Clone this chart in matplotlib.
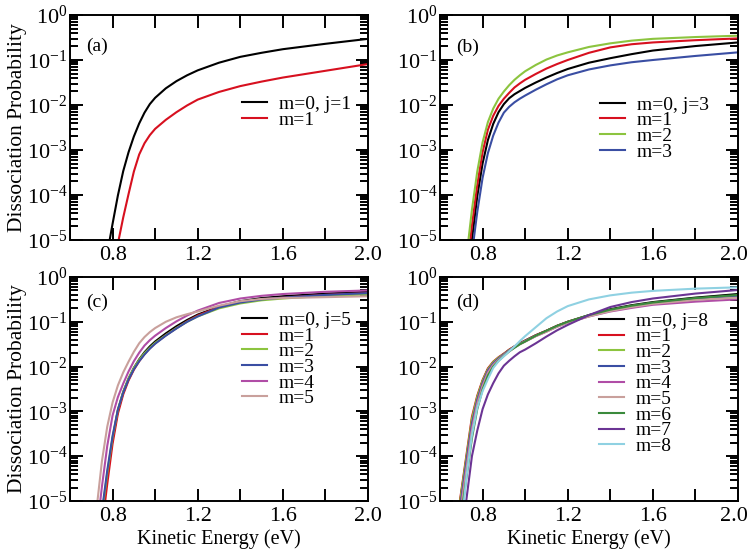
import numpy as np
import matplotlib
matplotlib.use('Agg')
import matplotlib.pyplot as plt
import matplotlib.transforms as mtransforms
from matplotlib.ticker import LogLocator, FuncFormatter, NullFormatter, FixedLocator

plt.rcParams['font.family'] = ['Liberation Serif', 'DejaVu Serif']
plt.rcParams['mathtext.fontset'] = 'custom'
plt.rcParams['mathtext.rm'] = 'Liberation Serif'
plt.rcParams['mathtext.it'] = 'Liberation Serif:italic'
plt.rcParams['font.size'] = 14

# ---------------- data (log10 of dissociation probability) ----------------
E_a = [0.75, 0.775, 0.80, 0.825, 0.85, 0.875, 0.90, 0.925, 0.95, 0.975, 1.00,
       1.05, 1.10, 1.15, 1.20, 1.30, 1.40, 1.50, 1.60, 1.80, 2.00]
a_m0 = [-6.2, -5.3, -4.64, -4.01, -3.47, -3.05, -2.70, -2.41, -2.17, -1.98, -1.84,
        -1.63, -1.47, -1.34, -1.23, -1.06, -0.93, -0.84, -0.76, -0.64, -0.53]
a_m1 = [-7.5, -6.6, -5.70, -5.08, -4.50, -3.98, -3.48, -3.10, -2.85, -2.67, -2.53,
        -2.33, -2.16, -2.01, -1.88, -1.71, -1.58, -1.48, -1.39, -1.24, -1.09]

E_b = [0.70, 0.725, 0.75, 0.775, 0.80, 0.825, 0.85, 0.875, 0.90, 0.925, 0.95, 0.975, 1.00,
       1.05, 1.10, 1.15, 1.20, 1.30, 1.40, 1.50, 1.60, 1.80, 2.00]
b_m0 = [-7.3, -6.1, -5.0, -4.03, -3.30, -2.78, -2.42, -2.16, -1.98, -1.85, -1.76, -1.69, -1.62,
        -1.50, -1.39, -1.29, -1.20, -1.06, -0.96, -0.87, -0.79, -0.69, -0.61]
b_m1 = [-7.0, -5.75, -4.68, -3.78, -3.05, -2.55, -2.24, -2.02, -1.86, -1.73, -1.61, -1.52, -1.44,
        -1.31, -1.19, -1.09, -1.00, -0.84, -0.72, -0.65, -0.61, -0.56, -0.52]
b_m2 = [-6.6, -5.35, -4.33, -3.48, -2.83, -2.38, -2.08, -1.86, -1.70, -1.56, -1.44, -1.34, -1.25,
        -1.11, -0.99, -0.90, -0.83, -0.71, -0.63, -0.57, -0.53, -0.49, -0.46]
b_m3 = [-7.5, -6.4, -5.3, -4.38, -3.62, -3.07, -2.68, -2.39, -2.17, -2.04, -1.94, -1.86, -1.79,
        -1.66, -1.54, -1.43, -1.34, -1.21, -1.12, -1.05, -1.00, -0.91, -0.83]

E_c = E_b
c_m0 = [-7.4, -6.4, -5.4, -4.45, -3.62, -2.98, -2.57, -2.27, -2.03, -1.84, -1.68, -1.55, -1.44,
        -1.26, -1.10, -0.96, -0.84, -0.66, -0.54, -0.47, -0.43, -0.37, -0.33]
c_m1 = [-7.6, -6.6, -5.6, -4.62, -3.72, -3.05, -2.62, -2.31, -2.07, -1.88, -1.72, -1.59, -1.48,
        -1.30, -1.14, -0.99, -0.86, -0.67, -0.56, -0.50, -0.46, -0.40, -0.36]
c_m2 = [-7.3, -6.3, -5.3, -4.38, -3.58, -2.96, -2.56, -2.26, -2.03, -1.85, -1.70, -1.58, -1.47,
        -1.30, -1.14, -1.00, -0.88, -0.70, -0.59, -0.52, -0.48, -0.42, -0.39]
c_m3 = [-7.2, -6.2, -5.22, -4.32, -3.55, -2.96, -2.58, -2.29, -2.06, -1.88, -1.73, -1.60, -1.49,
        -1.31, -1.15, -1.00, -0.88, -0.68, -0.57, -0.50, -0.46, -0.40, -0.36]
c_m4 = [-6.9, -5.7, -4.68, -3.77, -3.09, -2.68, -2.38, -2.11, -1.88, -1.69, -1.53, -1.41, -1.31,
        -1.14, -0.99, -0.86, -0.75, -0.58, -0.48, -0.42, -0.38, -0.33, -0.30]
c_m5 = [-6.4, -5.17, -4.11, -3.34, -2.80, -2.42, -2.13, -1.89, -1.67, -1.48, -1.34, -1.23, -1.14,
        -1.00, -0.90, -0.83, -0.77, -0.64, -0.54, -0.49, -0.47, -0.45, -0.43]

E_d = [0.65, 0.675, 0.70, 0.725, 0.75, 0.775, 0.80, 0.825, 0.85, 0.875, 0.90, 0.925, 0.95, 0.975,
       1.00, 1.05, 1.10, 1.15, 1.20, 1.30, 1.40, 1.50, 1.60, 1.80, 2.00]
d_m0 = [-6.5, -5.70, -4.85, -4.03, -3.24, -2.70, -2.33, -2.06, -1.91, -1.81, -1.72, -1.63, -1.55, -1.48,
        -1.42, -1.30, -1.20, -1.09, -1.00, -0.85, -0.72, -0.63, -0.56, -0.46, -0.38]
d_m1 = [-6.4, -5.60, -4.78, -3.95, -3.12, -2.65, -2.30, -2.04, -1.89, -1.79, -1.71, -1.62, -1.55, -1.48,
        -1.42, -1.30, -1.20, -1.09, -1.00, -0.86, -0.74, -0.65, -0.58, -0.48, -0.42]
d_m2 = [-6.5, -5.65, -4.82, -4.00, -3.17, -2.68, -2.32, -2.06, -1.90, -1.80, -1.72, -1.63, -1.56, -1.49,
        -1.43, -1.31, -1.21, -1.10, -1.01, -0.86, -0.74, -0.65, -0.58, -0.49, -0.43]
d_m3 = [-6.6, -5.78, -4.95, -4.10, -3.28, -2.75, -2.37, -2.09, -1.93, -1.82, -1.73, -1.64, -1.56, -1.49,
        -1.43, -1.31, -1.21, -1.10, -1.01, -0.87, -0.75, -0.66, -0.59, -0.50, -0.44]
d_m4 = [-6.7, -5.88, -5.05, -4.20, -3.36, -2.80, -2.41, -2.12, -1.95, -1.84, -1.74, -1.65, -1.57, -1.50,
        -1.44, -1.32, -1.22, -1.11, -1.02, -0.88, -0.77, -0.69, -0.62, -0.55, -0.50]
d_m5 = [-6.8, -5.98, -5.15, -4.30, -3.45, -2.86, -2.45, -2.15, -1.97, -1.85, -1.75, -1.66, -1.57, -1.50,
        -1.44, -1.32, -1.22, -1.11, -1.02, -0.88, -0.76, -0.67, -0.60, -0.51, -0.46]
d_m6 = [-7.0, -6.15, -5.30, -4.45, -3.60, -2.95, -2.51, -2.20, -2.00, -1.87, -1.76, -1.66, -1.58, -1.50,
        -1.44, -1.31, -1.20, -1.09, -1.00, -0.85, -0.73, -0.64, -0.57, -0.47, -0.40]
d_m7 = [-7.8, -6.9, -5.95, -4.93, -4.00, -3.43, -2.95, -2.62, -2.37, -2.15, -1.98, -1.87, -1.77, -1.68,
        -1.62, -1.48, -1.33, -1.19, -1.07, -0.85, -0.67, -0.56, -0.48, -0.37, -0.29]
d_m8 = [-8.0, -6.9, -5.60, -4.43, -3.53, -2.92, -2.55, -2.28, -2.03, -1.88, -1.77, -1.66, -1.55, -1.43,
        -1.32, -1.12, -0.92, -0.77, -0.65, -0.50, -0.41, -0.35, -0.31, -0.26, -0.23]

labels_a = ['m=0, j=1', 'm=1']
labels_b = ['m=0, j=3', 'm=1', 'm=2', 'm=3']
labels_c = ['m=0, j=5', 'm=1', 'm=2', 'm=3', 'm=4', 'm=5']
labels_d = ['m=0, j=8', 'm=1', 'm=2', 'm=3', 'm=4', 'm=5', 'm=6', 'm=7', 'm=8']

colors = ['#000000', '#d7101f', '#8cc43f', '#3a4ea3', '#b04da6',
          '#c9a09c', '#3a8a3c', '#6b3494', '#8fd1e2']

xticks_major = [0.8, 1.2, 1.6, 2.0]
xticks_minor = [0.6, 1.0, 1.4, 1.8]
xtick_labels = ['0.8', '1.2', '1.6', '2.0']

W, H = 749, 551
fig = plt.figure(figsize=(W / 100, H / 100), dpi=100)

def px_axes(l, t, r, b):
    return fig.add_axes([l / W, 1 - b / H, (r - l) / W, (b - t) / H])

panels = [
    dict(rect=(70, 15, 368, 240), E=E_a, ys=[a_m0, a_m1], labels=labels_a, tag='(a)',
         tagpos=(0.054, 0.86), leg=(0.577, 0.642), ylabel=True, xlabel=False, right=False),
    dict(rect=(440, 15, 738, 240), E=E_b, ys=[b_m0, b_m1, b_m2, b_m3], labels=labels_b, tag='(b)',
         tagpos=(0.054, 0.855), leg=(0.537, 0.64), ylabel=False, xlabel=False, right=True),
    dict(rect=(70, 277, 368, 501), E=E_c, ys=[c_m0, c_m1, c_m2, c_m3, c_m4, c_m5], labels=labels_c,
         tag='(c)', tagpos=(0.054, 0.888), leg=(0.576, 0.847), ylabel=True, xlabel=True, right=False),
    dict(rect=(440, 277, 738, 501), E=E_d, ys=[d_m0, d_m1, d_m2, d_m3, d_m4, d_m5, d_m6, d_m7, d_m8],
         labels=labels_d, tag='(d)', tagpos=(0.054, 0.888), leg=(0.534, 0.843), ylabel=False, xlabel=True,
         right=True),
]

def yfmt(v, pos):
    e = int(round(np.log10(v)))
    return r'$\mathregular{10^{%d}}$' % e

for p in panels:
    ax = px_axes(*p['rect'])
    for i, (y, lab) in enumerate(zip(p['ys'], p['labels'])):
        ax.plot(p['E'], 10.0 ** np.array(y), color=colors[i], lw=1.5, label=lab)
    ax.set_yscale('log')
    ax.set_xlim(0.6, 2.0)
    ax.set_ylim(1e-5, 1.0)
    ax.xaxis.set_major_locator(FixedLocator(xticks_major))
    ax.xaxis.set_minor_locator(FixedLocator(xticks_minor))
    ax.set_xticklabels(xtick_labels)
    ax.yaxis.set_major_locator(LogLocator(base=10, numticks=10))
    ax.yaxis.set_minor_locator(LogLocator(base=10, subs=np.arange(2, 10), numticks=20))
    ax.yaxis.set_major_formatter(FuncFormatter(yfmt))
    ax.yaxis.set_minor_formatter(NullFormatter())
    ax.tick_params(axis='both', which='both', direction='in', top=True, right=True, width=1.4)
    ax.tick_params(axis='x', which='both', length=9, pad=4, labelsize=16)
    ax.tick_params(axis='y', which='major', length=9, pad=2, labelsize=16)
    ax.tick_params(axis='y', which='minor', length=6)
    for s in ax.spines.values():
        s.set_linewidth(1.4)
    if p['right']:
        # nudge the last x tick label so it stays inside the figure edge
        last = ax.get_xticklabels()[-1]
        last.set_transform(last.get_transform() +
                           mtransforms.ScaledTranslation(-4 / 100, 0, fig.dpi_scale_trans))
    ax.text(p['tagpos'][0], p['tagpos'][1], p['tag'], transform=ax.transAxes,
            fontsize=14, ha='left', va='center')
    ax.legend(loc='upper left', bbox_to_anchor=p['leg'], frameon=False, fontsize=14,
              handlelength=1.3, handletextpad=0.6, borderpad=0, borderaxespad=0,
              labelspacing=-0.1)
    if p['ylabel']:
        ax.set_ylabel('Dissociation Probability', fontsize=15.5, labelpad=0)
    if p['xlabel']:
        ax.set_xlabel('Kinetic Energy (eV)', fontsize=14.5, labelpad=3)

fig.savefig('out.png', dpi=100)
